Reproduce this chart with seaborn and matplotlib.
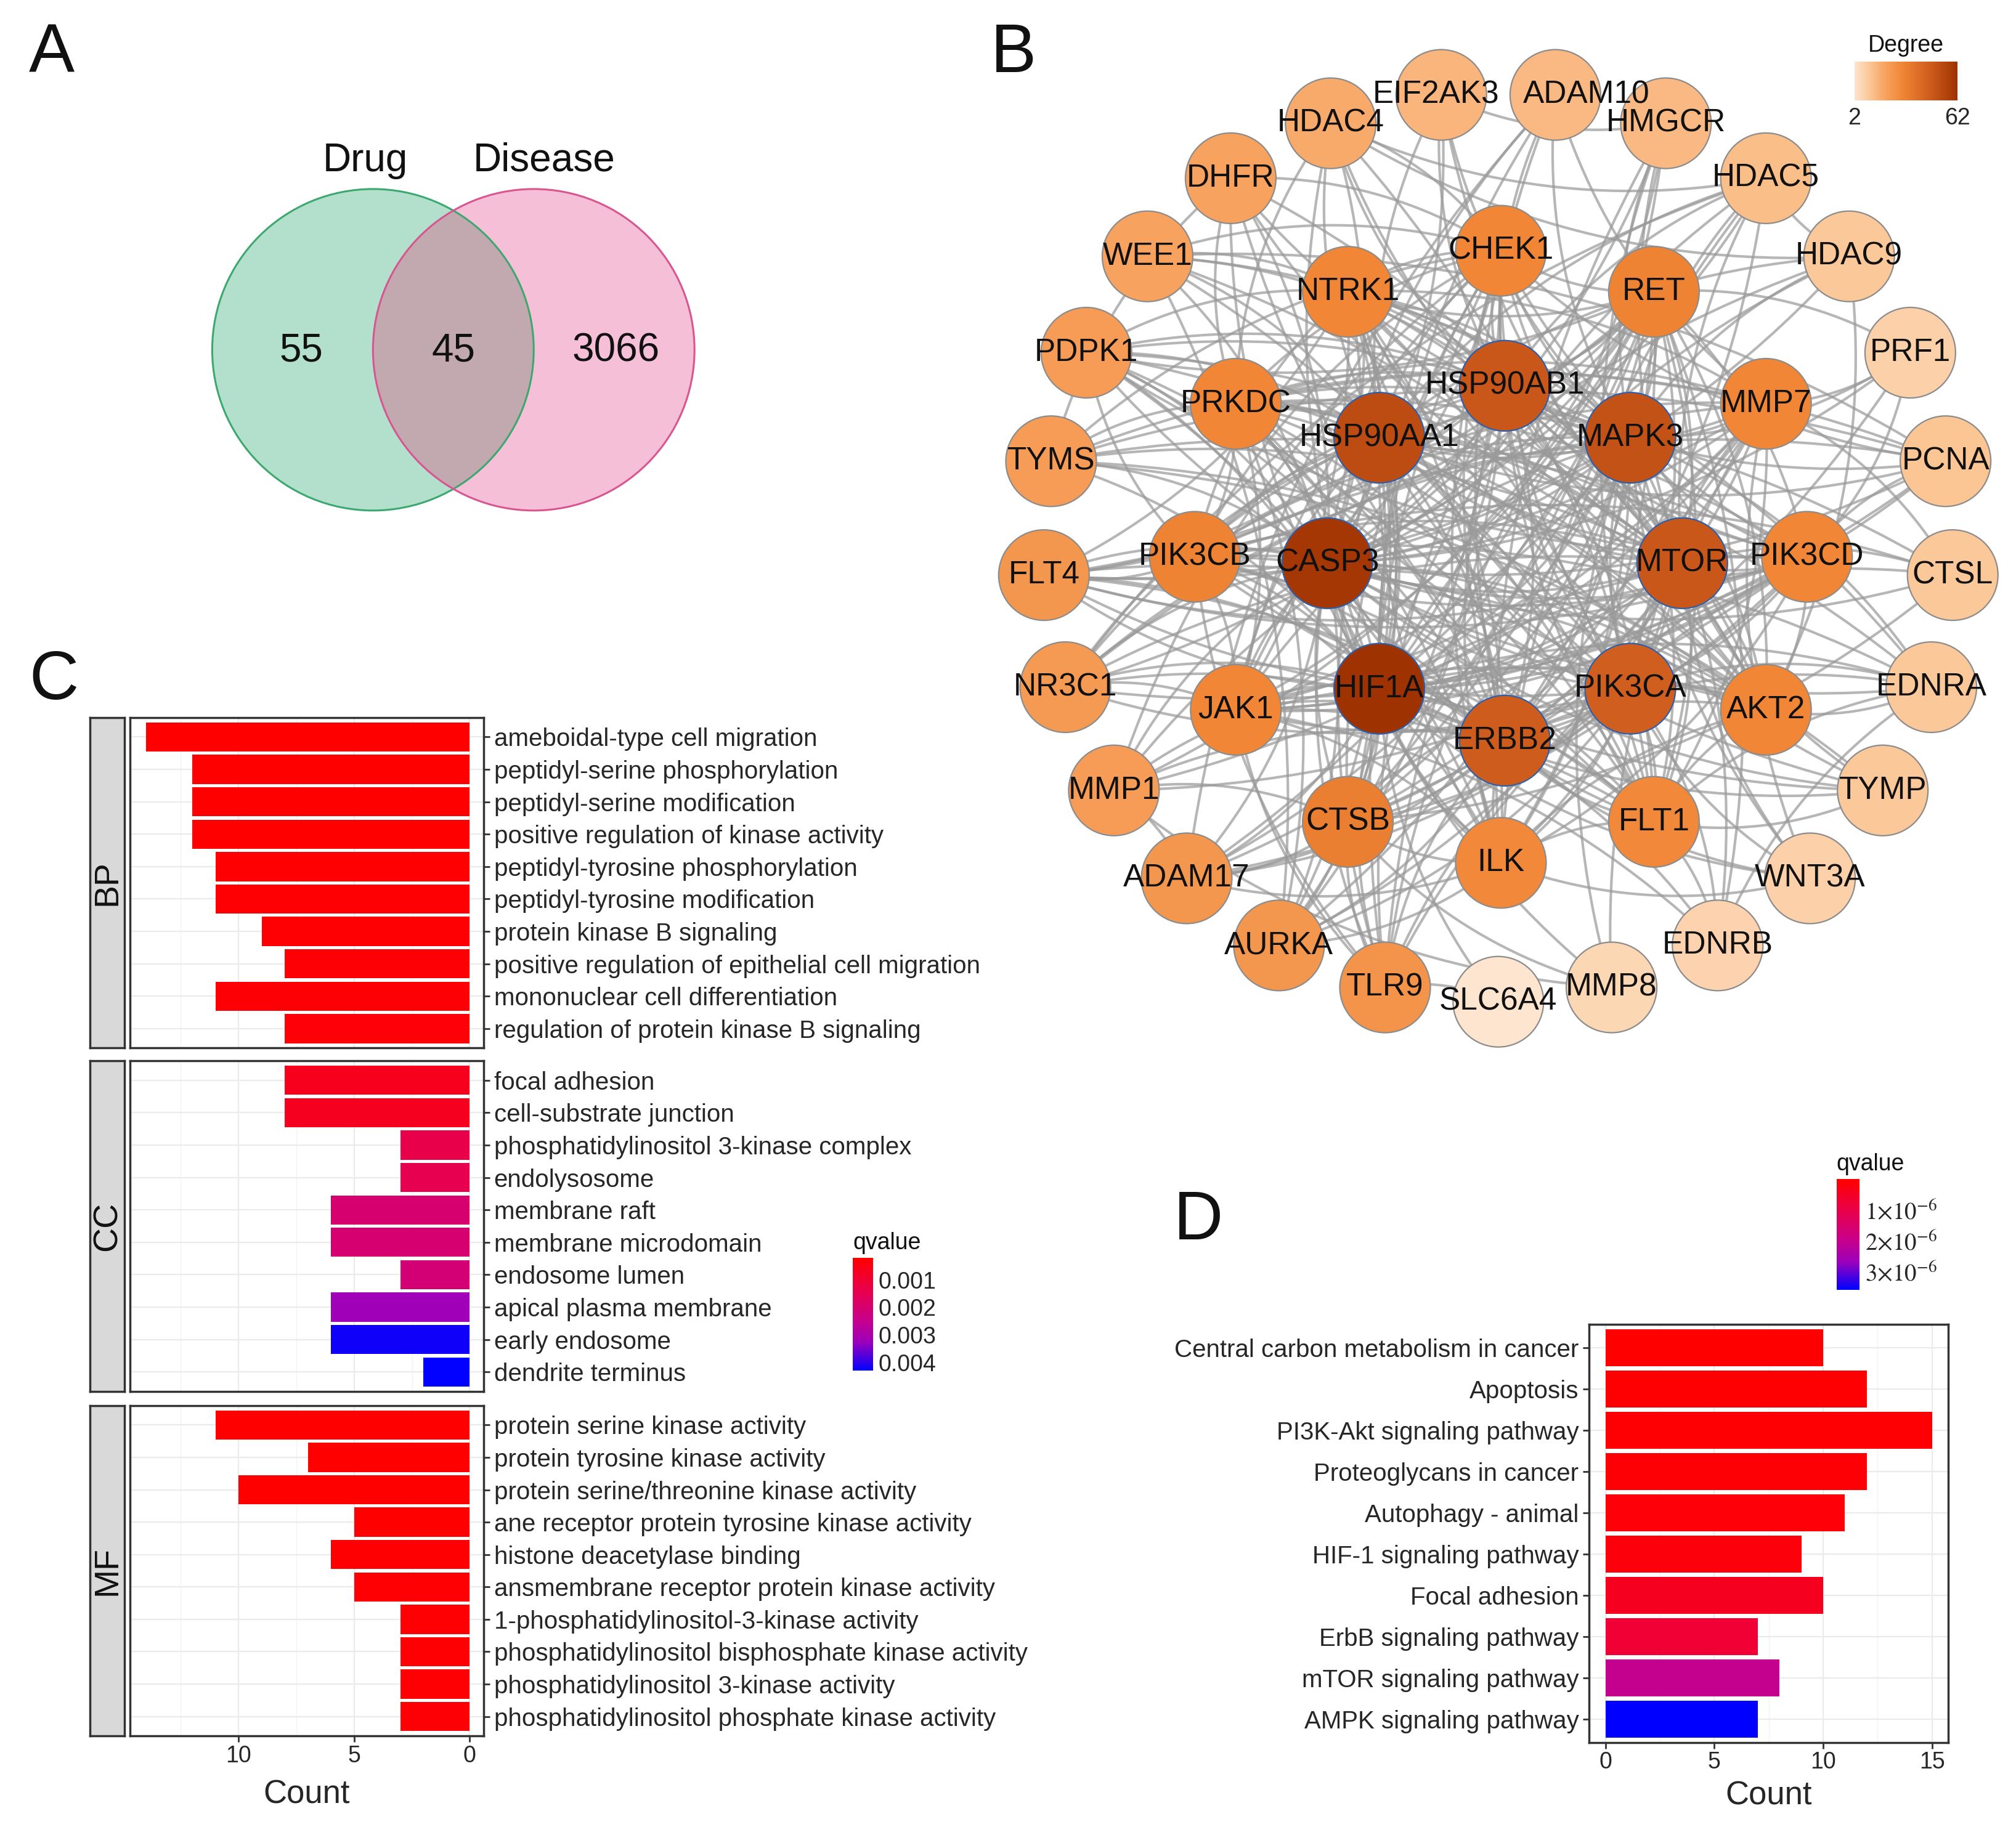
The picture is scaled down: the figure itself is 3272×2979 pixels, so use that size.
import numpy as np
import pandas as pd
import matplotlib
matplotlib.use("Agg")
import matplotlib.pyplot as plt
import seaborn as sns
from matplotlib.colors import LinearSegmentedColormap, Normalize
from matplotlib.cm import ScalarMappable
from matplotlib.collections import LineCollection
from matplotlib.patches import Circle
from matplotlib.ticker import MultipleLocator

# ---------------- A: Venn ----------------
venn_names = ["Drug", "Disease"]
venn_counts = [55, 45, 3066]   # drug only, shared, disease only

# ---------------- B: PPI network ----------------
outer_ring = ["SLC6A4", "MMP8", "EDNRB", "WNT3A", "TYMP", "EDNRA", "CTSL", "PCNA",
              "PRF1", "HDAC9", "HDAC5", "HMGCR", "ADAM10", "EIF2AK3", "HDAC4", "DHFR",
              "WEE1", "PDPK1", "TYMS", "FLT4", "NR3C1", "MMP1", "ADAM17", "AURKA", "TLR9"]
middle_ring = ["CHEK1", "RET", "MMP7", "PIK3CD", "AKT2", "FLT1", "ILK", "CTSB",
               "JAK1", "PIK3CB", "PRKDC", "NTRK1"]
inner_ring = ["HSP90AB1", "MAPK3", "MTOR", "PIK3CA", "ERBB2", "HIF1A", "CASP3", "HSP90AA1"]

degree = {
    "CASP3": 60, "HIF1A": 62, "HSP90AA1": 52, "HSP90AB1": 48, "MAPK3": 50, "MTOR": 48,
    "ERBB2": 46, "PIK3CA": 45,
    "CHEK1": 30, "NTRK1": 30, "RET": 31, "PRKDC": 30, "MMP7": 30, "PIK3CB": 31,
    "PIK3CD": 30, "JAK1": 30, "AKT2": 30, "CTSB": 33, "FLT1": 29, "ILK": 29,
    "SLC6A4": 2, "MMP8": 6, "EDNRB": 7, "WNT3A": 8, "TYMP": 10, "EDNRA": 10, "CTSL": 10,
    "PCNA": 11, "PRF1": 8, "HDAC9": 10, "HDAC5": 13, "HMGCR": 14, "ADAM10": 14,
    "EIF2AK3": 15, "HDAC4": 18, "DHFR": 20, "WEE1": 20, "PDPK1": 22, "TYMS": 22,
    "FLT4": 24, "NR3C1": 23, "MMP1": 22, "ADAM17": 24, "AURKA": 24, "TLR9": 25,
}

interactions = {
    "CASP3": "HIF1A HSP90AA1 HSP90AB1 MAPK3 MTOR ERBB2 PIK3CA CHEK1 NTRK1 RET PRKDC MMP7 PIK3CB "
             "PIK3CD JAK1 AKT2 CTSB FLT1 ILK MMP8 TYMP EDNRA CTSL PCNA PRF1 HDAC9 HDAC5 HMGCR "
             "ADAM10 EIF2AK3 HDAC4 DHFR WEE1 PDPK1 TYMS FLT4 NR3C1 MMP1 ADAM17 AURKA TLR9",
    "HIF1A": "HSP90AA1 HSP90AB1 MAPK3 MTOR ERBB2 PIK3CA CHEK1 NTRK1 RET PRKDC MMP7 PIK3CB PIK3CD "
             "JAK1 AKT2 CTSB FLT1 ILK EDNRB WNT3A TYMP EDNRA CTSL PCNA HDAC9 HDAC5 HMGCR ADAM10 "
             "HDAC4 DHFR PDPK1 TYMS FLT4 NR3C1 MMP1 ADAM17 AURKA TLR9 SLC6A4",
    "HSP90AA1": "HSP90AB1 MAPK3 MTOR ERBB2 PIK3CA CHEK1 NTRK1 RET PRKDC PIK3CB PIK3CD JAK1 AKT2 "
                "FLT1 ILK PCNA HDAC9 HDAC5 EIF2AK3 HDAC4 WEE1 PDPK1 FLT4 NR3C1 AURKA TLR9 CTSB MMP7",
    "HSP90AB1": "MAPK3 MTOR ERBB2 PIK3CA CHEK1 NTRK1 RET PRKDC PIK3CB PIK3CD JAK1 AKT2 FLT1 ILK "
                "PCNA HDAC5 EIF2AK3 HDAC4 WEE1 PDPK1 FLT4 NR3C1 AURKA TLR9 ADAM10",
    "MAPK3": "MTOR ERBB2 PIK3CA CHEK1 NTRK1 RET PRKDC MMP7 PIK3CB PIK3CD JAK1 AKT2 CTSB FLT1 ILK "
             "EDNRA EDNRB WNT3A MMP8 PRF1 HDAC9 HDAC5 HMGCR ADAM10 EIF2AK3 DHFR WEE1 PDPK1 FLT4 "
             "NR3C1 MMP1 ADAM17 AURKA TLR9",
    "MTOR": "ERBB2 PIK3CA CHEK1 NTRK1 RET PRKDC PIK3CB PIK3CD JAK1 AKT2 CTSB FLT1 ILK HMGCR "
            "EIF2AK3 HDAC4 HDAC5 DHFR PDPK1 TYMS FLT4 NR3C1 AURKA CTSL TYMP WNT3A",
    "ERBB2": "PIK3CA NTRK1 RET PRKDC MMP7 PIK3CB PIK3CD JAK1 AKT2 CTSB FLT1 ILK ADAM10 ADAM17 "
             "PDPK1 FLT4 MMP1 NR3C1 CHEK1 EDNRA WNT3A HDAC5 AURKA TLR9",
    "PIK3CA": "NTRK1 RET PRKDC PIK3CB PIK3CD JAK1 AKT2 CTSB FLT1 ILK PDPK1 FLT4 NR3C1 ADAM17 "
              "TLR9 EDNRA EDNRB WNT3A HMGCR CHEK1 MMP7 AURKA",
    "CHEK1": "PRKDC WEE1 AURKA PCNA HDAC4 DHFR TYMS NTRK1 RET JAK1 CTSB FLT1 ILK MMP1 TLR9 "
             "PIK3CB PIK3CD",
    "NTRK1": "RET PIK3CB FLT1 FLT4 PDPK1 ILK JAK1 WEE1 AKT2 PIK3CD TYMP EDNRA CTSB MMP7",
    "RET": "FLT1 FLT4 PIK3CD AKT2 EDNRB PRF1 PDPK1 JAK1 PIK3CB CTSB ILK NR3C1 MMP1 ADAM17 TLR9",
    "PRKDC": "PCNA TYMS AURKA JAK1 PIK3CB DHFR HDAC4 AKT2 FLT1 PIK3CD MMP7 CTSL EDNRA TYMP ILK",
    "MMP7": "MMP1 MMP8 ADAM10 ADAM17 CTSB CTSL PRF1 WNT3A FLT1 PIK3CB JAK1 TYMS FLT4 NR3C1",
    "PIK3CB": "PIK3CD AKT2 PDPK1 JAK1 ILK FLT4 TLR9 FLT1 CTSL PCNA EDNRA TYMP",
    "PIK3CD": "AKT2 JAK1 PDPK1 ILK TLR9 PRF1 PCNA FLT4 NR3C1 MMP1 ADAM17 TYMS",
    "JAK1": "AKT2 TLR9 NR3C1 ILK HDAC9 PCNA EDNRB FLT1",
    "AKT2": "PDPK1 ILK FLT1 HDAC9 EDNRA FLT4 TYMS WEE1 DHFR",
    "CTSB": "CTSL MMP1 ADAM17 MMP8 TLR9 ILK PRF1 HMGCR",
    "FLT1": "FLT4 ILK TYMP EDNRA EDNRB WEE1 DHFR HDAC4 PDPK1",
    "ILK": "PDPK1 ADAM17 WNT3A AURKA HDAC5 HMGCR",
    "EIF2AK3": "HMGCR",
    "HDAC5": "HDAC9 HDAC4 NR3C1",
    "HDAC4": "HDAC9",
    "DHFR": "TYMS",
    "TYMS": "TYMP PCNA",
    "WEE1": "AURKA PCNA",
    "MMP1": "MMP8 ADAM17",
    "ADAM10": "ADAM17",
    "EDNRA": "EDNRB",
    "SLC6A4": "TLR9",
}

# ---------------- C: GO enrichment ----------------
bp_terms = ["ameboidal-type cell migration", "peptidyl-serine phosphorylation",
            "peptidyl-serine modification", "positive regulation of kinase activity",
            "peptidyl-tyrosine phosphorylation", "peptidyl-tyrosine modification",
            "protein kinase B signaling", "positive regulation of epithelial cell migration",
            "mononuclear cell differentiation", "regulation of protein kinase B signaling"]
bp_count = [14, 12, 12, 12, 11, 11, 9, 8, 11, 8]
bp_q = [0.00020, 0.00021, 0.00022, 0.00023, 0.00024, 0.00025, 0.00027, 0.00029, 0.00031, 0.00033]

cc_terms = ["focal adhesion", "cell-substrate junction", "phosphatidylinositol 3-kinase complex",
            "endolysosome", "membrane raft", "membrane microdomain", "endosome lumen",
            "apical plasma membrane", "early endosome", "dendrite terminus"]
cc_count = [8, 8, 3, 3, 6, 6, 3, 6, 6, 2]
cc_q = [0.00068, 0.00070, 0.00140, 0.00145, 0.00200, 0.00202, 0.00210, 0.00320, 0.00420, 0.00428]

mf_terms = ["protein serine kinase activity", "protein tyrosine kinase activity",
            "protein serine/threonine kinase activity",
            "ane receptor protein tyrosine kinase activity", "histone deacetylase binding",
            "ansmembrane receptor protein kinase activity",
            "1-phosphatidylinositol-3-kinase activity",
            "phosphatidylinositol bisphosphate kinase activity",
            "phosphatidylinositol 3-kinase activity",
            "phosphatidylinositol phosphate kinase activity"]
mf_count = [11, 7, 10, 5, 6, 5, 3, 3, 3, 3]
mf_q = [0.00020, 0.00021, 0.00022, 0.00023, 0.00024, 0.00025, 0.00026, 0.00027, 0.00028, 0.00029]

# ---------------- D: KEGG enrichment ----------------
kegg_terms = ["Central carbon metabolism in cancer", "Apoptosis", "PI3K-Akt signaling pathway",
              "Proteoglycans in cancer", "Autophagy - animal", "HIF-1 signaling pathway",
              "Focal adhesion", "ErbB signaling pathway", "mTOR signaling pathway",
              "AMPK signaling pathway"]
kegg_count = [10, 12, 15, 12, 11, 9, 10, 7, 8, 7]
kegg_q = [2e-8, 4e-8, 5e-8, 8e-8, 1.2e-7, 1.6e-7, 4.3e-7, 7.2e-7, 2.05e-6, 3.6e-6]


sns.set_style("white")
plt.rcParams["font.family"] = ["Liberation Sans", "DejaVu Sans"]
plt.rcParams["text.color"] = "#111111"

W, H = 1568.0, 1427.0


def box(x0, y0, x1, y1):
    return [x0 / W, 1 - y1 / H, (x1 - x0) / W, (y1 - y0) / H]


q_cmap = LinearSegmentedColormap.from_list(
    "q", [(0, "#ff0000"), (0.3, "#e8004e"), (0.55, "#c8008a"), (0.75, "#9c00bc"), (1, "#0000ff")])
deg_cmap = LinearSegmentedColormap.from_list(
    "deg", [(0, "#fde5cf"), (0.14, "#fbc797"), (0.3, "#f7a25e"), (0.47, "#f08535"),
            (0.75, "#cc5a1c"), (1, "#9e3200")])

fig = plt.figure(figsize=(32.73, 29.79), dpi=100)

# ---------- A ----------
ax_a = fig.add_axes(box(150, 95, 570, 410))
ax_a.set_xlim(150, 570)
ax_a.set_ylim(410, 95)
ax_a.axis("off")
g_c = (290, 272)
p_c = (415, 272)
rad = 125
green = Circle(g_c, rad, fc="#b3e0cc", ec="none", zorder=1)
pink = Circle(p_c, rad, fc="#f5bfd8", ec="none", zorder=1)
ax_a.add_patch(green)
ax_a.add_patch(pink)
lens = Circle(p_c, rad, fc="#c2a9b0", ec="none", zorder=2)
ax_a.add_patch(lens)
lens.set_clip_path(green)
ax_a.add_patch(Circle(g_c, rad, fill=False, ec="#3ca86f", lw=2.2, zorder=3))
ax_a.add_patch(Circle(p_c, rad, fill=False, ec="#d9558f", lw=2.2, zorder=3))
ax_a.text(g_c[0] - 56, 273, str(venn_counts[0]), fontsize=46, ha="center", va="center")
ax_a.text((g_c[0] + p_c[0]) / 2, 273, str(venn_counts[1]), fontsize=46, ha="center", va="center")
ax_a.text(p_c[0] + 64, 273, str(venn_counts[2]), fontsize=46, ha="center", va="center")
ax_a.text(284, 125, venn_names[0], fontsize=46, ha="center", va="center")
ax_a.text(423, 125, venn_names[1], fontsize=46, ha="center", va="center")

# ---------- B ----------
ax_b = fig.add_axes(box(760, 0, 1568, 830))
rings = [(outer_ring, (1165, 425), 354, -90, 1),
         (middle_ring, (1167, 433), 238, 90, -1),
         (inner_ring, (1170, 438), 138, 90, -1)]
rows = []
for names, (cx, cy), r, start, direction in rings:
    step = 360.0 / len(names)
    for i, n in enumerate(names):
        a = np.deg2rad(start + direction * i * step)
        rows.append((n, cx + r * np.cos(a), cy - r * np.sin(a), degree[n]))
nodes = pd.DataFrame(rows, columns=["gene", "x", "y", "degree"])
pos = {g: np.array([x, y]) for g, x, y in zip(nodes.gene, nodes.x, nodes.y)}

pairs = set()
for a, partners in interactions.items():
    for b in partners.split():
        if a != b:
            pairs.add(frozenset((a, b)))

segs = []
t = np.linspace(0, 1, 30)[:, None]
for pr in sorted(tuple(sorted(p)) for p in pairs):
    p0, p1 = pos[pr[0]], pos[pr[1]]
    d = p1 - p0
    ctrl = (p0 + p1) / 2 + 0.16 * np.array([-d[1], d[0]])
    segs.append((1 - t) ** 2 * p0 + 2 * (1 - t) * t * ctrl + t ** 2 * p1)
ax_b.add_collection(LineCollection(segs, colors="#9a9a9a", linewidths=3.0, alpha=0.72, zorder=1))

sns.scatterplot(data=nodes, x="x", y="y", hue="degree", palette=deg_cmap, hue_norm=(2, 62),
                s=11200, legend=False, ax=ax_b, zorder=3, linewidth=1.6)
node_coll = ax_b.collections[-1]
node_coll.set_edgecolor(["#2f5fa8" if d >= 44 else "#8c8c8c" for d in nodes.degree])

# small label nudges where neighbouring names would collide
label_shift = {"ADAM10": (24, 0), "EIF2AK3": (-4, 0)}
for g, x, y in zip(nodes.gene, nodes.x, nodes.y):
    dx, dy = label_shift.get(g, (0, 0))
    ax_b.text(x + dx, y + dy, g, fontsize=37, ha="center", va="center", zorder=4)
ax_b.set_xlim(760, 1568)
ax_b.set_ylim(830, 0)
ax_b.axis("off")

cax_deg = fig.add_axes(box(1442, 48, 1522, 78))
cb_deg = fig.colorbar(ScalarMappable(Normalize(2, 62), deg_cmap), cax=cax_deg, orientation="horizontal")
cb_deg.set_ticks([2, 62])
cb_deg.outline.set_visible(False)
cax_deg.tick_params(length=0, labelsize=27, pad=8)
cax_deg.set_title("Degree", fontsize=27, pad=12)

# ---------- C ----------
q_norm_go = Normalize(0.0002, 0.0043)
go_sets = [("BP", bp_terms, bp_count, bp_q, 558, 815),
           ("CC", cc_terms, cc_count, cc_q, 825, 1082),
           ("MF", mf_terms, mf_count, mf_q, 1093, 1350)]
for tag, terms, counts, qs, y0, y1 in go_sets:
    ax = fig.add_axes(box(101, y0, 376, y1))
    df = pd.DataFrame({"Term": terms, "Count": counts})
    pal = {tm: q_cmap(q_norm_go(q)) for tm, q in zip(terms, qs)}
    sns.barplot(data=df, x="Count", y="Term", hue="Term", palette=pal, legend=False, dodge=False,
                width=0.9, saturation=1, linewidth=0, ax=ax)
    ax.set_xlim(14.7, -0.6)
    ax.set_ylim(9.6, -0.6)
    ax.xaxis.set_major_locator(MultipleLocator(5))
    ax.xaxis.set_minor_locator(MultipleLocator(2.5))
    ax.set_axisbelow(True)
    ax.grid(which="major", color="#ebebeb", lw=1.6)
    ax.grid(which="minor", axis="x", color="#f3f3f3", lw=1.0)
    ax.yaxis.tick_right()
    ax.tick_params(axis="y", labelsize=29, length=7, width=2, color="#333333", pad=5, right=True)
    ax.tick_params(axis="x", which="minor", length=0)
    for sp in ax.spines.values():
        sp.set_color("#333333")
        sp.set_linewidth(2.5)
    ax.set_ylabel("")
    if tag == "MF":
        ax.tick_params(axis="x", labelsize=27, length=7, width=2, color="#333333", bottom=True)
        ax.set_xlabel("Count", fontsize=38, labelpad=14)
    else:
        ax.tick_params(axis="x", bottom=False, labelbottom=False)
        ax.set_xlabel("")
    sax = fig.add_axes(box(70, y0, 97, y1))
    sax.set_facecolor("#d9d9d9")
    sax.set_xticks([])
    sax.set_yticks([])
    for sp in sax.spines.values():
        sp.set_color("#333333")
        sp.set_linewidth(2.5)
    sax.text(0.5, 0.5, tag, rotation=90, fontsize=40, ha="center", va="center", transform=sax.transAxes)

cax_c = fig.add_axes(box(663, 978, 679, 1066))
cb_c = fig.colorbar(ScalarMappable(q_norm_go, q_cmap), cax=cax_c)
cb_c.set_ticks([0.001, 0.002, 0.003, 0.004])
cb_c.set_ticklabels(["0.001", "0.002", "0.003", "0.004"])
cb_c.outline.set_visible(False)
cax_c.invert_yaxis()
cax_c.tick_params(labelsize=27, color="white", direction="in", length=6, width=1.5, pad=6)
cax_c.set_title("qvalue", fontsize=27, loc="left", pad=10)

# ---------- D ----------
ax_d = fig.add_axes(box(1235.6, 1030, 1515, 1355))
q_norm_kegg = Normalize(0, 3.6e-6)
dfk = pd.DataFrame({"Term": kegg_terms, "Count": kegg_count})
pal_k = {tm: q_cmap(q_norm_kegg(q)) for tm, q in zip(kegg_terms, kegg_q)}
sns.barplot(data=dfk, x="Count", y="Term", hue="Term", palette=pal_k, legend=False, dodge=False,
            width=0.9, saturation=1, linewidth=0, ax=ax_d)
ax_d.set_xlim(-0.75, 15.75)
ax_d.set_ylim(9.56, -0.56)
ax_d.xaxis.set_major_locator(MultipleLocator(5))
ax_d.xaxis.set_minor_locator(MultipleLocator(2.5))
ax_d.set_axisbelow(True)
ax_d.grid(which="major", color="#ebebeb", lw=1.6)
ax_d.grid(which="minor", axis="x", color="#f3f3f3", lw=1.0)
ax_d.tick_params(axis="y", labelsize=29, length=7, width=2, color="#333333", pad=5, left=True)
ax_d.tick_params(axis="x", labelsize=27, length=7, width=2, color="#333333", bottom=True)
ax_d.tick_params(axis="x", which="minor", length=0)
for sp in ax_d.spines.values():
    sp.set_color("#333333")
    sp.set_linewidth(2.5)
ax_d.set_ylabel("")
ax_d.set_xlabel("Count", fontsize=38, labelpad=8)

cax_d = fig.add_axes(box(1428, 917, 1446, 1003))
cb_d = fig.colorbar(ScalarMappable(q_norm_kegg, q_cmap), cax=cax_d)
cb_d.set_ticks([1e-6, 2e-6, 3e-6])
cb_d.set_ticklabels([r"$1{\times}10^{-6}$", r"$2{\times}10^{-6}$", r"$3{\times}10^{-6}$"])
for lab in cax_d.get_yticklabels():
    lab.set_math_fontfamily("stix")
cb_d.outline.set_visible(False)
cax_d.invert_yaxis()
cax_d.tick_params(labelsize=28, color="white", direction="in", length=6, width=1.5, pad=6)
cax_d.set_title("qvalue", fontsize=27, loc="left", pad=10)

# panel letters
for letter, (lx, ly) in zip("ABCD", [(40, 42), (788, 42), (42, 530), (932, 950)]):
    fig.text(lx / W, 1 - ly / H, letter, fontsize=80, ha="center", va="center")

fig.savefig("out.png", dpi=100)
